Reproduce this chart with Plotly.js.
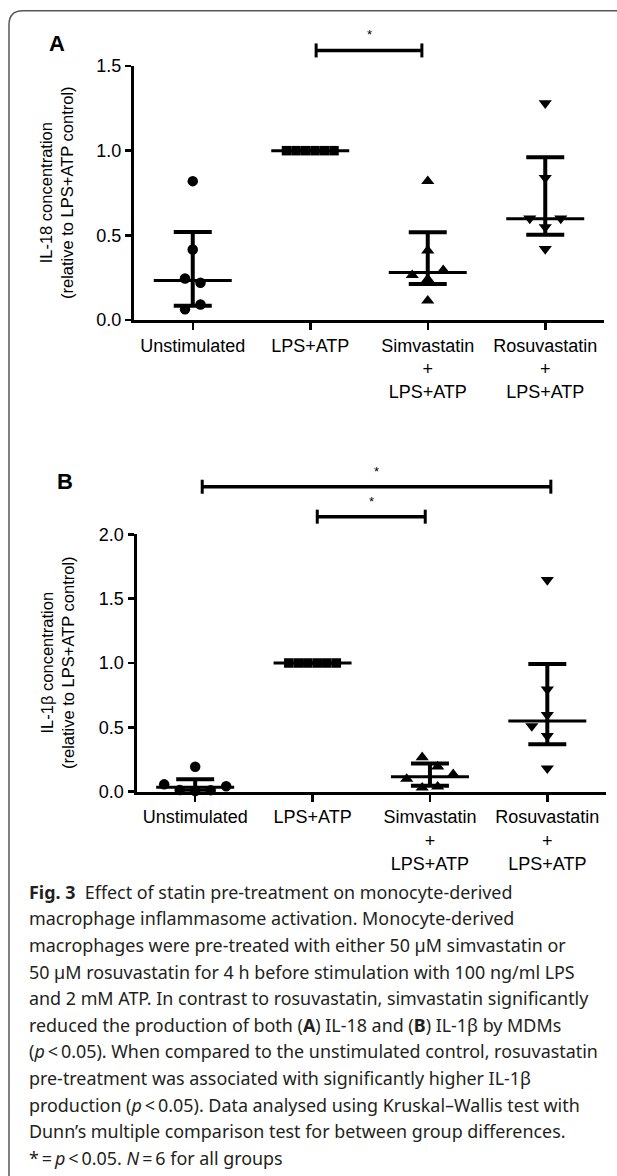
<!DOCTYPE html>
<html>
<head>
<meta charset="utf-8">
<script src="https://cdn.plot.ly/plotly-3.0.1.min.js"></script>
<style>html,body{margin:0;padding:0;background:#fff;}#chart{width:617px;height:1176px;}</style>
</head>
<body>
<div id="chart"></div>
<script>
// ---------------- data ----------------
const categories = ['Unstimulated', 'LPS+ATP', 'Simvastatin<br>+<br>LPS+ATP', 'Rosuvastatin<br>+<br>LPS+ATP'];

// Panel A: IL-18 (relative to LPS+ATP control)
const il18_unstim = [0.82, 0.416, 0.245, 0.22, 0.063, 0.092];
const il18_lps    = [1, 1, 1, 1, 1, 1];
const il18_simva  = [0.82, 0.41, 0.241, 0.265, 0.294, 0.114];
const il18_rosu   = [1.28, 0.84, 0.549, 0.6, 0.6, 0.42];
const il18_median = [0.233, 1, 0.28, 0.598];
const il18_q1     = [0.084, 1, 0.212, 0.504];
const il18_q3     = [0.52, 1, 0.518, 0.961];

// Panel B: IL-1β (relative to LPS+ATP control)
const il1b_unstim = [0.194, 0.005, 0.013, 0.012, 0.057, 0.042];
const il1b_lps    = [1, 1, 1, 1, 1, 1];
const il1b_simva  = [0.031, 0.039, 0.099, 0.135, 0.267, 0.195];
const il1b_rosu   = [1.645, 0.795, 0.596, 0.51, 0.433, 0.182];
const il1b_median = [0.035, 1, 0.117, 0.549];
const il1b_q1     = [0.01, 1, 0.047, 0.368];
const il1b_q3     = [0.096, 1, 0.22, 0.992];

const yTicksA = [0, 0.5, 1.0, 1.5];
const yTicksB = [0, 0.5, 1.0, 1.5, 2.0];

// significance brackets (category index from/to, height in axis units)
const sigA_from = [1.05], sigA_to = [1.95], sigA_level = [1.592];
const sigB_from = [0.06, 1.04], sigB_to = [3.03, 1.96], sigB_level = [2.37, 2.137];

const captionLines = [
  '<b>Fig. 3</b>  Effect of statin pre-treatment on monocyte-derived',
  'macrophage inflammasome activation. Monocyte-derived',
  'macrophages were pre-treated with either 50 µM simvastatin or',
  '50 µM rosuvastatin for 4 h before stimulation with 100 ng/ml LPS',
  'and 2 mM ATP. In contrast to rosuvastatin, simvastatin significantly',
  'reduced the production of both (<b>A</b>) IL-18 and (<b>B</b>) IL-1β by MDMs',
  '(<i>p</i>\u2009<\u20090.05). When compared to the unstimulated control, rosuvastatin',
  'pre-treatment was associated with significantly higher IL-1β',
  'production (<i>p</i>\u2009<\u20090.05). Data analysed using Kruskal–Wallis test with',
  'Dunn’s multiple comparison test for between group differences.',
  '*\u2009=\u2009<i>p</i>\u2009<\u20090.05. <i>N</i>\u2009=\u20096 for all groups'
];

// ---------------- geometry ----------------
const W = 617, H = 1176;
const geoA = {l: 134, r: 604, t: 66, b: 320, ymax: 1.5};
const geoB = {l: 136.5, r: 606, t: 534.3, b: 791.7, ymax: 2.0};
const XR = [-0.5, 3.5];
function dom(g) {
  return {x: [g.l / W, g.r / W], y: [1 - g.b / H, 1 - g.t / H]};
}
const dA = dom(geoA), dB = dom(geoB);

// beeswarm-style horizontal spreading (pixel based)
function swarm(vals, center, g, stepPx) {
  const pyU = (g.b - g.t) / g.ymax;
  const pxU = (g.r - g.l) / (XR[1] - XR[0]);
  const ROW_GAP = 9.5, DY = 14, dxMin = 0.9 * stepPx;
  const idx = vals.map((v, i) => i).sort((a, b) => vals[a] - vals[b] || a - b);
  const rows = [];
  let cur = [idx[0]];
  for (let k = 1; k < idx.length; k++) {
    if ((vals[idx[k]] - vals[idx[k - 1]]) * pyU < ROW_GAP) cur.push(idx[k]);
    else { rows.push(cur); cur = [idx[k]]; }
  }
  rows.push(cur);
  const placed = [], offs = new Array(vals.length).fill(0);
  rows.forEach(row => {
    const slots = [];
    if (row.length % 2) { slots.push(0); for (let k = 1; k < 12; k++) slots.push(-k * stepPx, k * stepPx); }
    else { for (let k = 0; k < 12; k++) slots.push(-(k + 0.5) * stepPx, (k + 0.5) * stepPx); }
    row.slice().sort((a, b) => a - b).forEach(i => {
      const y = vals[i] * pyU;
      for (const s of slots) {
        if (placed.every(p => Math.abs(p.x - s) >= dxMin || Math.abs(p.y - y) >= DY)) {
          offs[i] = s; placed.push({x: s, y: y}); break;
        }
      }
    });
  });
  return offs.map(o => center + o / pxU);
}

const symbols = ['circle', 'square', 'triangle-up', 'triangle-down'];
const sizes = [10.5, 9.5, 11.5, 11.5];
const steps = [15.5, 9.5, 15.5, 15.5];

function panelTraces(groups, med, q1, q3, g, xa, ya) {
  const tr = [];
  groups.forEach((vals, gi) => {
    tr.push({
      type: 'scatter', mode: 'markers', xaxis: xa, yaxis: ya,
      x: swarm(vals, gi, g, steps[gi]), y: vals, cliponaxis: false,
      marker: {symbol: symbols[gi], size: sizes[gi], color: '#000', line: {width: 0}},
      hoverinfo: 'y'
    });
  });
  tr.push({
    type: 'scatter', mode: 'markers', xaxis: xa, yaxis: ya, cliponaxis: false,
    x: [0, 1, 2, 3], y: med,
    marker: {symbol: 'line-ew', size: 55.7, color: '#000', line: {width: 3, color: '#000'}},
    error_y: {type: 'data', symmetric: false,
      array: q3.map((v, i) => v - med[i]), arrayminus: med.map((v, i) => v - q1[i]),
      color: '#000', thickness: 4, width: 19},
    hoverinfo: 'y'
  });
  return tr;
}

const traces = [].concat(
  panelTraces([il18_unstim, il18_lps, il18_simva, il18_rosu], il18_median, il18_q1, il18_q3, geoA, 'x', 'y'),
  panelTraces([il1b_unstim, il1b_lps, il1b_simva, il1b_rosu], il1b_median, il1b_q1, il1b_q3, geoB, 'x2', 'y2')
);

const FAM = 'Liberation Sans, Arial, sans-serif';
const tickFont = {family: FAM, size: 18, color: '#000'};
function xAxis(d, anchor) {
  return {domain: d.x, anchor: anchor, range: XR, tickvals: [0, 1, 2, 3], ticktext: categories,
    showline: true, linewidth: 3, linecolor: '#000', ticks: 'outside', ticklen: 7, tickwidth: 2.5,
    tickcolor: '#000', showgrid: false, zeroline: false, tickfont: tickFont, fixedrange: true};
}
function yAxis(d, anchor, g, tv) {
  return {domain: d.y, anchor: anchor, range: [0, g.ymax], tickvals: tv, ticktext: tv.map(v => v.toFixed(1)),
    showline: true, linewidth: 3, linecolor: '#000', ticks: 'outside', ticklen: 6, tickwidth: 2.5,
    tickcolor: '#000', showgrid: false, zeroline: false, tickfont: tickFont, fixedrange: true};
}

const shapes = [], annotations = [];
function addSig(from, to, level, g, xa, ya) {
  const yd = ya + ' domain';
  const capU = 7 / (g.b - g.t); // half-height of end caps in domain units
  from.forEach((f, i) => {
    const yy = level[i] / g.ymax;
    shapes.push({type: 'line', xref: xa, yref: yd, x0: f, x1: to[i], y0: yy, y1: yy, line: {color: '#000', width: 3.5}});
    shapes.push({type: 'line', xref: xa, yref: yd, x0: f, x1: f, y0: yy - capU, y1: yy + capU, line: {color: '#000', width: 3}});
    shapes.push({type: 'line', xref: xa, yref: yd, x0: to[i], x1: to[i], y0: yy - capU, y1: yy + capU, line: {color: '#000', width: 3}});
    annotations.push({xref: xa, yref: yd, x: (f + to[i]) / 2, y: yy, yanchor: 'bottom', yshift: 6,
      text: '*', showarrow: false, font: {family: FAM, size: 13, color: '#000'}});
  });
}
addSig(sigA_from, sigA_to, sigA_level, geoA, 'x', 'y');
addSig(sigB_from, sigB_to, sigB_level, geoB, 'x2', 'y2');

// y-axis titles
const ytFont = {family: FAM, size: 16.5, color: '#000'};
annotations.push({xref: 'paper', yref: 'paper', x: 56 / W, xanchor: 'center', y: 1 - ((geoA.t + geoA.b) / 2) / H, yanchor: 'middle',
  text: 'IL-18 concentration<br>(relative to LPS+ATP control)', textangle: -90, showarrow: false, font: ytFont});
annotations.push({xref: 'paper', yref: 'paper', x: 57 / W, xanchor: 'center', y: 1 - ((geoB.t + geoB.b) / 2) / H, yanchor: 'middle',
  text: 'IL-1β concentration<br>(relative to LPS+ATP control)', textangle: -90, showarrow: false, font: ytFont});

// panel letters
const letterFont = {family: FAM, size: 22, color: '#000'};
annotations.push({xref: 'paper', yref: 'paper', x: 57 / W, xanchor: 'center', y: 1 - 43 / H, yanchor: 'middle', text: '<b>A</b>', showarrow: false, font: letterFont});
annotations.push({xref: 'paper', yref: 'paper', x: 64.5 / W, xanchor: 'center', y: 1 - 481 / H, yanchor: 'middle', text: '<b>B</b>', showarrow: false, font: letterFont});

// caption
const capFont = {family: 'Noto Sans, sans-serif', size: 17.9, color: '#231f20'};
captionLines.forEach((t, i) => {
  annotations.push({xref: 'paper', yref: 'paper', x: 26.5 / W, xanchor: 'left', y: 1 - (891.7 + 26.6 * i) / H,
    yanchor: 'middle', text: t, showarrow: false, font: capFont, align: 'left'});
});

// frame with rounded top-left corner
const fx = 9 / W, fy = 1 - 10.7 / H, rr = 14;
shapes.push({type: 'path', xref: 'paper', yref: 'paper', layer: 'below',
  path: 'M ' + fx + ',' + (-0.01) + ' L ' + fx + ',' + (1 - (10.7 + rr) / H) +
        ' Q ' + fx + ',' + fy + ' ' + ((9 + rr) / W) + ',' + fy + ' L 1.02,' + fy,
  line: {color: '#555', width: 1.5}});

const layout = {
  width: W, height: H, margin: {l: 0, r: 0, t: 0, b: 0},
  paper_bgcolor: '#fff', plot_bgcolor: 'rgba(0,0,0,0)', showlegend: false,
  xaxis: xAxis(dA, 'y'), yaxis: yAxis(dA, 'x', geoA, yTicksA),
  xaxis2: xAxis(dB, 'y2'), yaxis2: yAxis(dB, 'x2', geoB, yTicksB),
  shapes: shapes, annotations: annotations, font: tickFont
};

Plotly.newPlot('chart', traces, layout, {displayModeBar: false, staticPlot: true});
</script>
</body>
</html>
